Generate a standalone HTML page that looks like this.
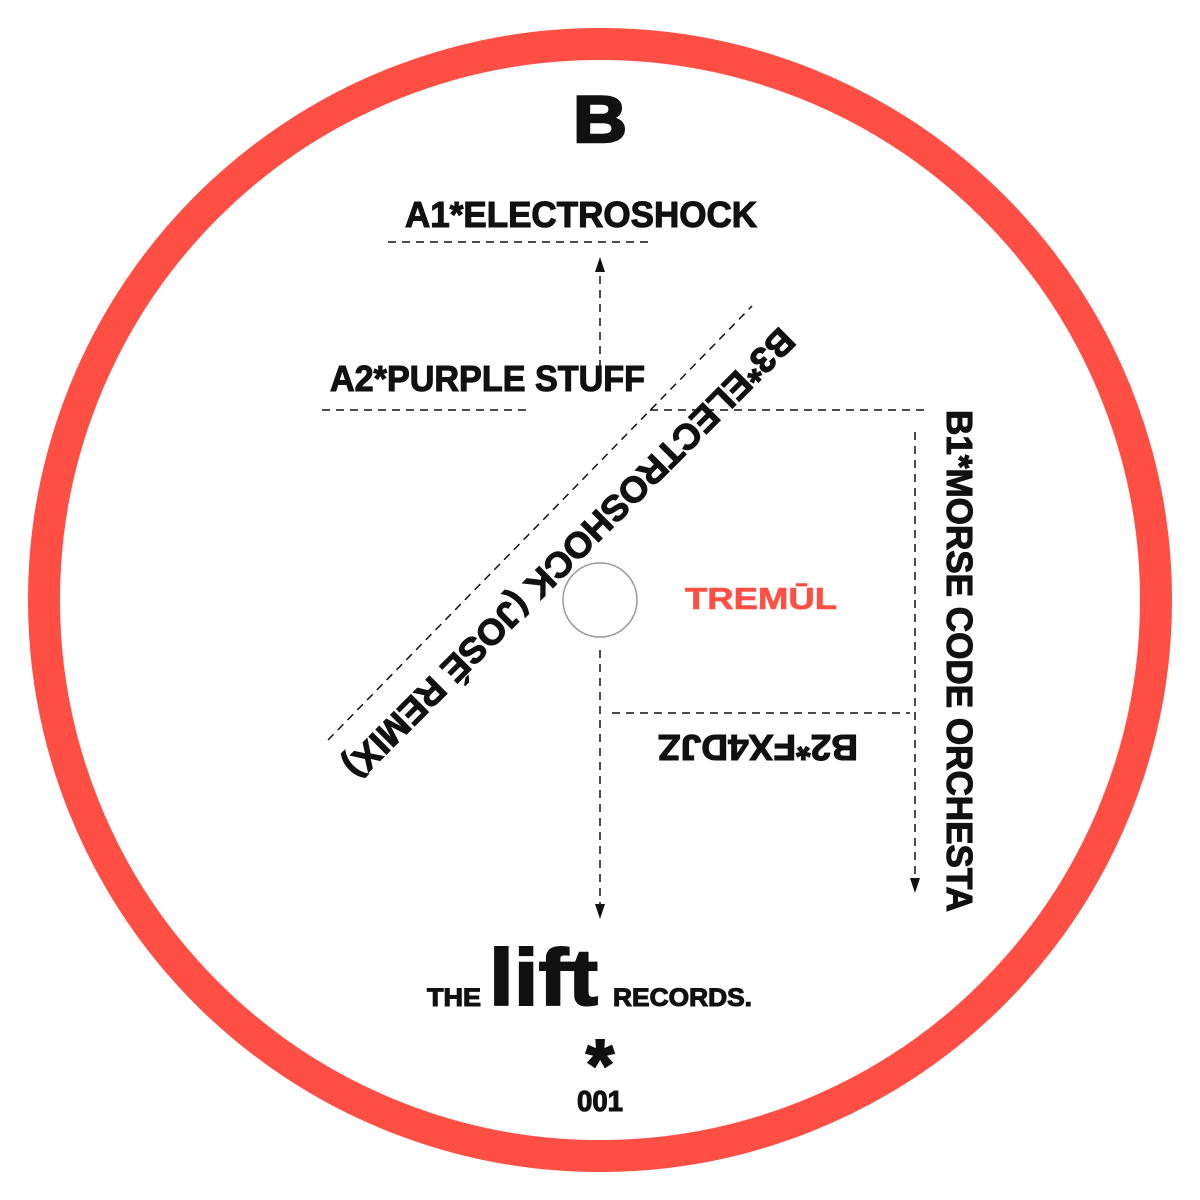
<!DOCTYPE html>
<html><head><meta charset="utf-8"><style>
html,body{margin:0;padding:0;background:#fff}
svg{display:block}
text{font-family:"Liberation Sans",sans-serif;font-weight:bold;fill:#111;stroke:#111;stroke-width:1.1}
</style></head><body>
<svg width="1200" height="1200" viewBox="0 0 1200 1200">
<rect width="1200" height="1200" fill="#fff"/>
<circle cx="600" cy="600" r="556" fill="none" stroke="#FF4F45" stroke-width="32"/>
<circle cx="600" cy="600" r="37" fill="none" stroke="#999" stroke-width="1.5"/>
<g stroke="#111" stroke-width="1.5" stroke-dasharray="8,6" fill="none">
<line x1="388" y1="242" x2="650" y2="242"/>
<line x1="322" y1="410" x2="530" y2="410"/>
<line x1="650" y1="410" x2="925" y2="410"/>
<line x1="612" y1="713" x2="910" y2="713"/>
<line x1="328" y1="740" x2="752" y2="306"/>
<line x1="600" y1="368" x2="600" y2="272"/>
<line x1="915" y1="432" x2="915" y2="878"/>
<line x1="600" y1="650" x2="600" y2="904"/>
</g>
<path d="M595,272 L605,272 L600,257 Z" fill="#111"/>
<path d="M910,878 L920,878 L915,893 Z" fill="#111"/>
<path d="M595,904 L605,904 L600,919 Z" fill="#111"/>
<text x="600" y="142" font-size="66" text-anchor="middle" textLength="54" lengthAdjust="spacingAndGlyphs" style="stroke-width:2.5">B</text>
<text x="405" y="227" font-size="36" textLength="352" lengthAdjust="spacingAndGlyphs">A1*ELECTROSHOCK</text>
<text x="330" y="391" font-size="36" textLength="315" lengthAdjust="spacingAndGlyphs">A2*PURPLE STUFF</text>
<text x="685" y="609" font-size="31" textLength="152" lengthAdjust="spacingAndGlyphs" style="fill:#FF4F45;stroke:#FF4F45;stroke-width:0.6">TREMŪL</text>
<g transform="translate(570,554) rotate(135)"><text x="0" y="13" font-size="36" text-anchor="middle" textLength="620" lengthAdjust="spacingAndGlyphs">B3*ELECTROSHOCK (JOSÉ REMIX)</text></g>
<g transform="translate(960,661) rotate(90)"><text x="0" y="13" font-size="36" text-anchor="middle" textLength="502" lengthAdjust="spacingAndGlyphs">B1*MORSE CODE ORCHESTA</text></g>
<g transform="translate(758,748) rotate(180)"><text x="0" y="13" font-size="36" text-anchor="middle" textLength="200" lengthAdjust="spacingAndGlyphs">B2*FX4DJZ</text></g>
<text x="427" y="1006" font-size="25" textLength="54" lengthAdjust="spacingAndGlyphs">THE</text>
<text x="489" y="1005" font-size="80" textLength="109" lengthAdjust="spacingAndGlyphs" style="stroke-width:2">lift</text>
<text x="613" y="1006" font-size="25" textLength="139" lengthAdjust="spacingAndGlyphs">RECORDS.</text>
<text x="600" y="1090" font-size="72" text-anchor="middle" style="stroke-width:2">*</text>
<text x="600" y="1111" font-size="29" text-anchor="middle" textLength="46" lengthAdjust="spacingAndGlyphs">001</text>
</svg>
</body></html>
